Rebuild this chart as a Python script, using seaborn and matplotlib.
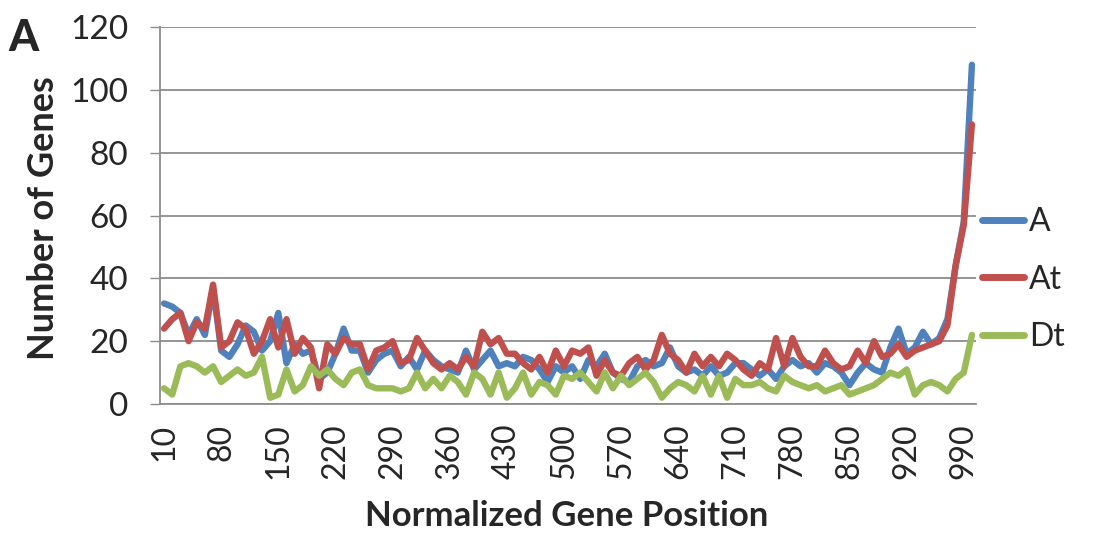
import matplotlib
matplotlib.use("Agg")
import matplotlib.pyplot as plt
import seaborn as sns
import pandas as pd
import numpy as np

positions = list(range(10, 1001, 10))

series_a = [32, 31, 29, 22, 27, 22, 37, 17, 15, 19,
            25, 23, 17, 20, 29, 13, 19, 16, 17, 8,
            10, 16, 24, 17, 17, 10, 14, 16, 17, 12,
            15, 11, 17, 14, 12, 11, 10, 17, 11, 14,
            17, 12, 13, 12, 15, 14, 11, 7, 12, 10,
            12, 8, 14, 12, 16, 10, 8, 7, 12, 14,
            12, 13, 18, 12, 10, 11, 9, 12, 9, 10,
            13, 13, 11, 9, 11, 8, 12, 14, 12, 13,
            10, 13, 12, 10, 6, 10, 13, 11, 10, 18,
            24, 16, 18, 23, 19, 21, 27, 44, 58, 108]

series_at = [24, 27, 29, 20, 26, 24, 38, 18, 20, 26,
             24, 16, 20, 27, 18, 27, 16, 21, 18, 5,
             19, 16, 21, 19, 19, 11, 17, 18, 20, 13,
             14, 21, 17, 13, 11, 13, 11, 15, 12, 23,
             19, 21, 16, 16, 13, 11, 15, 10, 17, 12,
             17, 16, 18, 9, 14, 10, 9, 13, 15, 11,
             14, 22, 16, 14, 10, 16, 12, 15, 12, 16,
             14, 11, 9, 13, 11, 21, 12, 21, 15, 12,
             12, 17, 13, 11, 12, 17, 13, 20, 15, 16,
             19, 15, 17, 18, 19, 20, 25, 44, 57, 89]

series_dt = [5, 3, 12, 13, 12, 10, 12, 7, 9, 11,
             9, 10, 15, 2, 3, 11, 4, 6, 12, 9,
             11, 8, 6, 10, 11, 6, 5, 5, 5, 4,
             5, 10, 5, 8, 5, 9, 7, 3, 10, 8,
             3, 10, 2, 5, 10, 3, 7, 6, 3, 9,
             8, 10, 7, 4, 10, 5, 9, 6, 8, 10,
             7, 2, 5, 7, 6, 4, 9, 3, 9, 2,
             8, 6, 6, 7, 5, 4, 9, 7, 6, 5,
             6, 4, 5, 6, 3, 4, 5, 6, 8, 10,
             9, 11, 3, 6, 7, 6, 4, 8, 10, 22]

series_names = ["A", "At", "Dt"]
colors = ["#4F81BD", "#C0504D", "#9BBB59"]

idx = np.arange(len(positions))
df = pd.concat([
    pd.DataFrame({"idx": idx, "pos": positions, "count": vals, "series": name})
    for name, vals in zip(series_names, [series_a, series_at, series_dt])
])

sns.set_theme(style="white")
plt.rcParams["font.family"] = ["Lato", "DejaVu Sans"]

fig = plt.figure(figsize=(10.98, 5.40), dpi=100)
ax = fig.add_axes([160 / 1098, 136 / 540, 816 / 1098, 377 / 540])

sns.lineplot(data=df, x="idx", y="count", hue="series",
             palette=dict(zip(series_names, colors)), linewidth=4.6,
             ax=ax, legend=True)

ax.set_xlim(-0.5, len(positions) - 0.5)
ax.set_ylim(0, 120)
ax.set_yticks(range(0, 121, 20))
ax.yaxis.grid(True, color="#8c8c8c", linewidth=1.3)
ax.xaxis.grid(False)
ax.set_axisbelow(True)

major = list(range(0, len(positions), 7))
ax.set_xticks(major)
ax.set_xticklabels([str(positions[i]) for i in major], rotation=90)
ax.set_xticks(np.arange(-0.5, len(positions), 1.0), minor=True)

ax.tick_params(axis="x", which="major", length=0, labelsize=23, pad=14)
ax.tick_params(axis="x", which="minor", length=7, width=0.8, color="#999999", direction="out")
ax.tick_params(axis="y", which="major", length=7, width=1.0, color="#8c8c8c", labelsize=24, pad=16, left=True)

for s in ["top", "right"]:
    ax.spines[s].set_visible(False)
for s in ["left", "bottom"]:
    ax.spines[s].set_color("#8c8c8c")
    ax.spines[s].set_linewidth(1.3)

ax.set_xlabel("Normalized Gene Position", fontsize=25, fontweight="bold")
ax.xaxis.set_label_coords((567 - 160) / 816, -(500 - 404) / 377)
ax.set_ylabel("Number of Genes", fontsize=26, fontweight="bold")
ax.yaxis.set_label_coords(-(160 - 60) / 816, (404 - 218) / 377)

leg = ax.legend(loc="center left", bbox_to_anchor=(1.0, 0.33), frameon=False,
                fontsize=23, handlelength=1.3, handletextpad=0.15,
                labelspacing=0.85, borderaxespad=0.1, borderpad=0.1)
for line in leg.get_lines():
    line.set_linewidth(5)

fig.text(8 / 1098, 1 - 38 / 540, "A", fontsize=31, fontweight="black", va="center", ha="left")

fig.savefig("out.png", dpi=100)
